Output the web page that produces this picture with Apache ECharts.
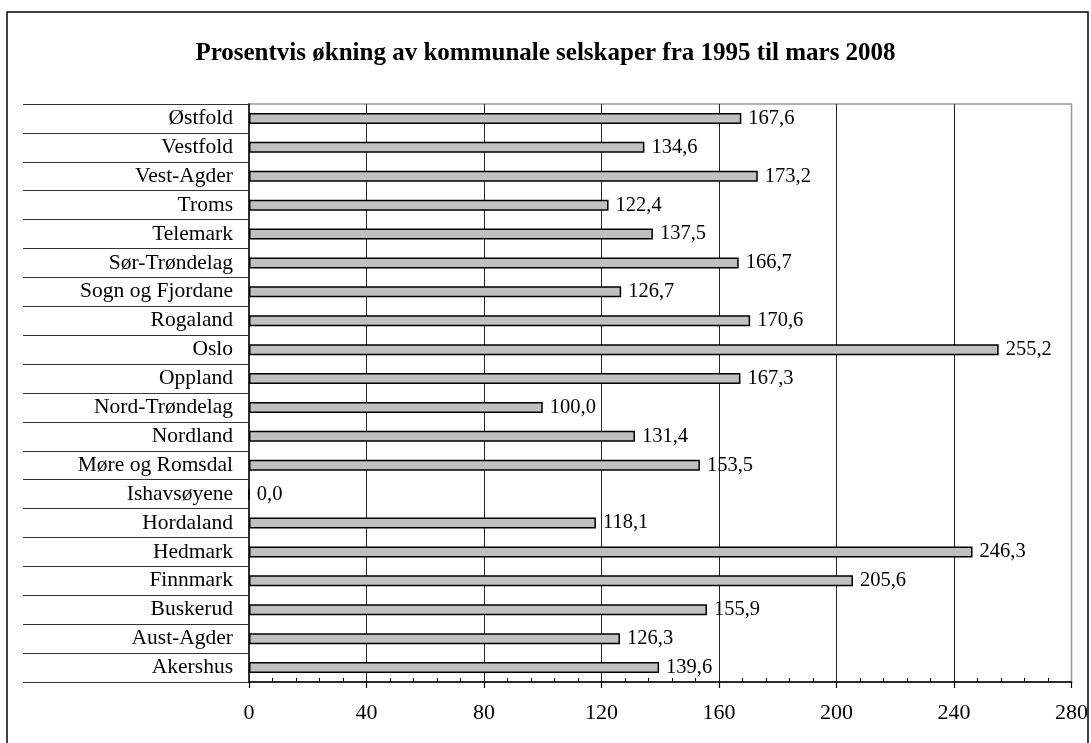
<!DOCTYPE html>
<html><head><meta charset="utf-8">
<script src="https://cdn.jsdelivr.net/npm/echarts@6/dist/echarts.min.js"></script>
<style>html,body{margin:0;padding:0;background:#fff}#c{width:1091px;height:743px}</style>
</head><body><div id="c"></div>
<script>
const titleText = 'Prosentvis økning av kommunale selskaper fra 1995 til mars 2008';
const categories = ['Østfold','Vestfold','Vest-Agder','Troms','Telemark','Sør-Trøndelag','Sogn og Fjordane','Rogaland','Oslo','Oppland','Nord-Trøndelag','Nordland','Møre og Romsdal','Ishavsøyene','Hordaland','Hedmark','Finnmark','Buskerud','Aust-Agder','Akershus'];
const values = [167.6,134.6,173.2,122.4,137.5,166.7,126.7,170.6,255.2,167.3,100.0,131.4,153.5,0.0,118.1,246.3,205.6,155.9,126.3,139.6];
const xTicks = [0,40,80,120,160,200,240,280];

const font = '"Liberation Serif","Times New Roman",serif';
const chart = echarts.init(document.getElementById('c'));
chart.setOption({
  animation: false,
  title: {
    text: titleText, left: 'center', top: 36,
    textStyle: {fontFamily: font, fontSize: 25, fontWeight: 'bold', color: '#000'}
  },
  graphic: [{
    type: 'rect', shape: {x: 7, y: 12, width: 1081, height: 740},
    style: {fill: 'none', stroke: '#000', lineWidth: 1.5}, z: 100
  }],
  grid: {left: 249, top: 104, right: 19, bottom: 61, show: true, borderColor: '#999', borderWidth: 1.5},
  xAxis: {
    type: 'value', min: xTicks[0], max: xTicks[xTicks.length-1], interval: 40,
    axisLine: {show: true, lineStyle: {color: '#000', width: 1.5}},
    axisTick: {show: true, length: 6, lineStyle: {color: '#000', width: 1.2}},
    minorTick: {show: true, splitNumber: 5, length: -4, lineStyle: {color: '#000', width: 1}},
    splitLine: {show: true, showMinLine: false, showMaxLine: false, lineStyle: {color: '#222', width: 1}},
    axisLabel: {margin: 20, fontFamily: font, fontSize: 22, color: '#000',
      formatter: v => xTicks.includes(v) ? String(v) : ''}
  },
  yAxis: {
    type: 'category', data: categories, inverse: true,
    axisLine: {show: true, lineStyle: {color: '#000', width: 1.5}},
    axisTick: {show: true, length: 226, lineStyle: {color: '#333', width: 1.2}},
    axisLabel: {margin: 16, fontFamily: font, fontSize: 21.5, color: '#000'},
    splitLine: {show: false}
  },
  series: [{
    type: 'bar', data: values, barWidth: 11,
    itemStyle: {color: '#c0c0c0', borderColor: '#000', borderWidth: 1.5},
    label: {show: true, position: 'right', distance: 7, fontFamily: font, fontSize: 20.5, color: '#000',
      formatter: p => p.value.toFixed(1).replace('.', ',')}
  }]
});
</script></body></html>
